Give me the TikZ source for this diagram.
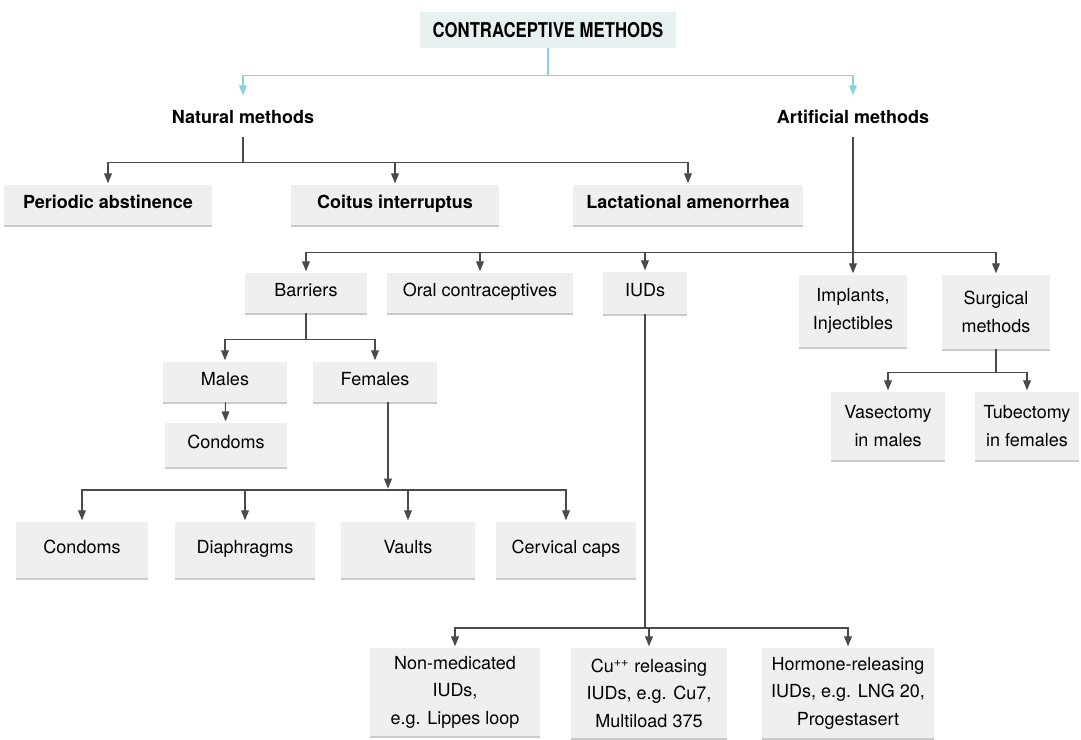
\documentclass[tikz,border=0pt]{standalone}
\usepackage{fontspec}
\setmainfont{TeX Gyre Heros}
\newfontfamily\narrowfont{TeX Gyre Heros}[FakeStretch=0.82]
\usepackage{tikz}
\usetikzlibrary{arrows.meta,shadows}

\definecolor{boxgray}{HTML}{EFEFEF}
\definecolor{titlefill}{HTML}{E8F1F2}
\definecolor{linegray}{HTML}{4A4A4A}
\definecolor{cyanline}{HTML}{86D4E0}
\newcommand\txtsize{\fontsize{12.8}{19.5}\selectfont}

\begin{document}
\begin{tikzpicture}[x=0.025cm,y=-0.025cm,
    box/.style={fill=boxgray, align=center, minimum height=1cm, inner sep=2pt, font=\txtsize,
        drop shadow={shadow xshift=0pt, shadow yshift=-1.6pt, fill=black!35, opacity=.6}},
    oneline/.style={text height=0.72em, text depth=0.22em},
    bbox/.style={box, oneline, font=\txtsize\bfseries},
    arr/.style={draw=linegray, line width=0.75pt, -{Triangle[length=7pt,width=5.5pt]}, shorten >=1pt},
    tarr/.style={arr, draw=cyanline}]

\useasboundingbox (0,0) rectangle (1081,740);

\node[fill=titlefill, minimum width=6.4cm, minimum height=0.9cm,
      font=\narrowfont\bfseries\fontsize{14.5}{17}\selectfont] (title) at (548,30) {CONTRACEPTIVE METHODS};

\node[minimum height=1cm, font=\txtsize\bfseries] (nat) at (243,117) {Natural methods};
\node[minimum height=1cm, font=\txtsize\bfseries] (art) at (853,117) {Artificial methods};

% natural
\node[bbox, minimum width=5.2cm] (per) at (108,205) {Periodic abstinence};
\node[bbox, minimum width=5.2cm] (coi) at (395,205) {Coitus interruptus};
\node[bbox, minimum width=5.75cm] (lac) at (688,205) {Lactational amenorrhea};

% artificial
\node[box, oneline, minimum width=3.05cm] (bar) at (306,293) {Barriers};
\node[box, oneline, minimum width=4.65cm] (ora) at (480,293) {Oral contraceptives};
\node[box, oneline, minimum width=2.1cm, minimum height=1.05cm] (iud) at (645,293) {IUDs};
\node[box, minimum width=2.7cm, minimum height=1.8cm] (imp) at (853,311) {Implants,\\Injectibles};
\node[box, minimum width=2.7cm, minimum height=1.85cm] (sur) at (996,312) {Surgical\\methods};

\node[box, oneline, minimum width=3.1cm] (mal) at (225,382) {Males};
\node[box, oneline, minimum width=3.1cm] (fem) at (375,382) {Females};
\node[box, oneline, minimum width=3.05cm, minimum height=1.1cm] (mcon) at (226,445) {Condoms};

\node[box, oneline, minimum width=3.3cm, minimum height=1.4cm] (fcon) at (82,550) {Condoms};
\node[box, oneline, minimum width=3.5cm, minimum height=1.4cm] (dia) at (245,550) {Diaphragms};
\node[box, oneline, minimum width=3.35cm, minimum height=1.4cm] (vau) at (408,550) {Vaults};
\node[box, oneline, minimum width=3.5cm, minimum height=1.4cm] (cer) at (566,550) {Cervical caps};

\node[box, minimum width=4.25cm, minimum height=2.2cm] (non) at (455,692) {Non-medicated\\IUDs,\\e.g. Lippes loop};
\node[box, minimum width=3.9cm, minimum height=2.25cm] (cu) at (649,693) {Cu\textsuperscript{++} releasing\\IUDs, e.g. Cu7,\\Multiload 375};
\node[box, minimum width=4.3cm, minimum height=2.25cm] (hor) at (848,693) {Hormone-releasing\\IUDs, e.g. LNG 20,\\Progestasert};

\node[box, minimum width=2.85cm, minimum height=1.7cm] (vas) at (888,426) {Vasectomy\\in males};
\node[box, minimum width=2.6cm, minimum height=1.7cm] (tub) at (1027,426) {Tubectomy\\in females};

\coordinate (fbus) at (388,490);
\coordinate (ibus) at (645,628);

\foreach \c in {nat,art}
    \draw[tarr] (title.south) -- ++(0,27) -| (\c.north);

\foreach \c in {per,coi,lac}
    \draw[arr] (nat.south) -- ++(0,25) -| (\c.north);

\foreach \c in {bar,ora,iud,imp,sur}
    \draw[arr] (art.south) -- ++(0,115) -| (\c.north);

\foreach \c in {mal,fem}
    \draw[arr] (bar.south) -- ++(0,26) -| (\c.north);

\draw[arr] (mal) -- (mcon);
\draw[arr] (fem.south -| fbus) -- (fbus);

\foreach \c in {fcon,dia,vau,cer}
    \draw[arr] (fbus) -| (\c.north);

\foreach \c in {non,cu,hor}
    \draw[arr] (iud.south) -- (ibus) -| (\c.north);

\foreach \c in {vas,tub}
    \draw[arr] (sur.south) -- ++(0,23) -| (\c.north);

\end{tikzpicture}
\end{document}
